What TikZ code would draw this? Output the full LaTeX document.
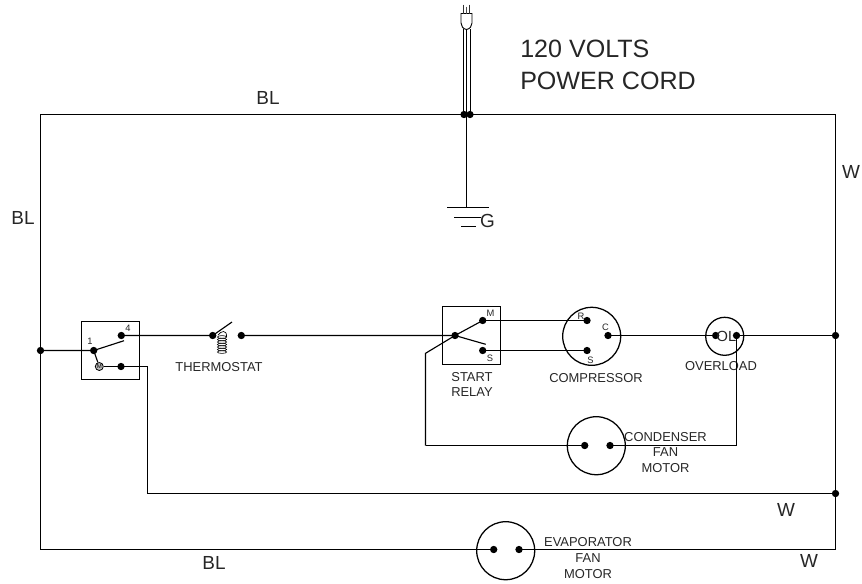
\documentclass[tikz,border=0pt]{standalone}
\usepackage{fontspec}
\setmainfont{Liberation Sans}
\newcommand{\fsA}{\fontsize{18.8pt}{24pt}\selectfont}
\newcommand{\fsB}{\fontsize{14.2pt}{18pt}\selectfont}
\newcommand{\fsC}{\fontsize{9.7pt}{11.7pt}\selectfont}
\newcommand{\fsD}{\fontsize{7pt}{9pt}\selectfont}
\tikzset{
  wire/.style={draw=black,line width=0.85pt},
  thin wire/.style={draw=black,line width=0.7pt},
  dot/.style={circle,fill=black,draw=none,minimum size=5.5pt,inner sep=0pt},
  disc/.style={circle,draw=black,line width=0.95pt,inner sep=0pt},
  relaybox/.style={draw=black,line width=0.85pt,inner sep=0pt,minimum width=43.5pt,minimum height=43.5pt},
  big/.style={inner sep=0pt,font=\fsA,align=left,anchor=west,text=black!85},
  wirelabel/.style={inner sep=0pt,font=\fsB,text=black!85},
  part/.style={inner sep=0pt,font=\fsC,align=center,text=black!85},
  pin/.style={inner sep=0pt,font=\fsD,text=black!85},
}
\begin{document}
\begin{tikzpicture}[x=0.75pt,y=-0.75pt]
\useasboundingbox (0,0) rectangle (862,583);
% frame corners
\coordinate (tl) at (40.5,114.5);
\coordinate (tr) at (835.5,114.5);
\coordinate (bl) at (40.5,549.5);
\coordinate (br) at (835.5,549.5);
% junction dots
\node[dot] (pL) at (464,114.5) {};
\node[dot] (pR) at (470,114.5) {};
\node[dot] (jL) at (40.5,350.5) {};
\node[dot] (jR1) at (835.5,335.5) {};
\node[dot] (jR2) at (835.5,493.5) {};
% frame
\draw[wire] (pL.center) -- (tl) -- (bl);
\draw[wire] (pR.center) -- (tr) -- (br);
% plug
\coordinate (plugL) at (463,29);
\coordinate (plugM) at (466.5,29);
\coordinate (plugR) at (470.5,29);
\coordinate (gndTop) at (466.5,114.5);
\coordinate (gndBot) at (466.5,207.5);
\draw[thin wire] (plugL) -- (463,114.5);
\draw[thin wire] (plugM) -- (gndTop) -- (gndBot);
\draw[thin wire] (plugR) -- (470.5,114.5);
\draw[thin wire,fill=white] (461,13.5) -- (472,13.5) -- (472,23) .. controls (472,26) and (470,29) .. (466.5,29.5) .. controls (463,29) and (461,26) .. (461,23) -- cycle;
\draw[line width=1.3pt,black!80] (463.5,4.5) -- (463.5,13.5);
\draw[line width=0.7pt,black!70] (466,6.5) -- (466,13.5);
\draw[line width=1.3pt,black!80] (469.5,4.5) -- (469.5,13.5);
% ground
\coordinate (g1a) at (447,207.5); \coordinate (g1b) at (489,207.5);
\coordinate (g2a) at (454,217.5); \coordinate (g2b) at (481,217.5);
\coordinate (g3a) at (461,226.5); \coordinate (g3b) at (476,226.5);
\draw[thin wire] (g1a) -- (g1b);
\draw[thin wire] (g2a) -- (g2b);
\draw[thin wire] (g3a) -- (g3b);
\node[inner sep=0pt,font=\fsB,text=black!85] (gtext) at (487.5,221) {G};
% power cord text
\node[big] (volts) at (520,49) {120 VOLTS};
\node[big] (cord) at (520,81) {POWER CORD};
% wire colour labels
\node[wirelabel] (lb1) at (268,98) {BL};
\node[wirelabel] (lb2) at (23,218) {BL};
\node[wirelabel] (lb3) at (214,563) {BL};
\node[wirelabel] (lw1) at (851,172) {W};
\node[wirelabel] (lw2) at (786,510) {W};
\node[wirelabel] (lw3) at (809,561) {W};
% switch
\node[relaybox] (sw) at (110.5,350.5) {};
\node[dot] (s1) at (93.7,350.5) {};
\node[dot] (s4) at (121.3,335.5) {};
\node[dot] (sM2) at (121,366.5) {};
\node[circle,draw=black,line width=0.6pt,minimum size=6pt,inner sep=0pt,fill=black!25] (sM) at (99.3,366.5) {};
\node[inner sep=0pt,font=\fontsize{4.5pt}{5pt}\selectfont] (sMt) at (99.3,366.7) {M};
\node[pin] (s1t) at (90,341) {1};
\node[pin] (s4t) at (128,328) {4};
\coordinate (armEnd) at (124,340.7);
\draw[wire] (jL.center) -- (s1.center) -- (armEnd);
\draw[wire] (s1.center) -- (sM);
\coordinate (wCorner) at (147.5,366.5);
\coordinate (wCorner2) at (147.5,493.5);
\draw[wire] (sM) -- (sM2.center) -- (wCorner) -- (wCorner2) -- (jR2.center);
% thermostat
\node[dot] (t1) at (212.7,335.5) {};
\node[dot] (t2) at (241.3,335.5) {};
\coordinate (tArm) at (232,322);
\draw[wire] (s4.center) -- (t1.center) -- (tArm);
\foreach \yy in {337,339.5,342,344.5,347,349.5,352}
  \draw[line width=0.45pt] (222,\yy) ellipse [x radius=4.6, y radius=1.4];
\draw[line width=0.5pt] (218,335) .. controls (221,331) and (227,329) .. (226.5,337);
\node[part] (tlabel) at (219,367) {THERMOSTAT};
% relay
\node[relaybox] (rel) at (471.5,335.5) {};
\node[dot] (rc) at (455,335.5) {};
\node[dot] (rM) at (482.7,320.5) {};
\node[dot] (rS) at (482.7,350.5) {};
\coordinate (rArm) at (485.7,344.3);
\coordinate (rTail) at (425.5,353.3);
\coordinate (rDown) at (425.5,445.5);
\node[pin] (rMt) at (490.5,313) {M};
\node[pin] (rSt) at (490,358) {S};
\node[part] (rlabel) at (472,384.5) {START\\RELAY};
\draw[wire] (t2.center) -- (rc.center) -- (rArm);
% compressor
\node[disc,minimum size=43.5pt] (comp) at (591.7,336.3) {};
\node[dot] (cR) at (587,320.5) {};
\node[dot] (cS) at (587,350.5) {};
\node[dot] (cC) at (608,335.5) {};
\node[pin] (cRt) at (581,316) {R};
\node[pin] (cSt) at (590.5,360) {S};
\node[pin] (cCt) at (605.5,327) {C};
\node[part] (clabel) at (596,378) {COMPRESSOR};
\draw[wire] (rM.center) -- (rc.center) -- (rTail) -- (rDown);
\draw[wire] (rM.center) -- (cR.center);
\draw[wire] (rS.center) -- (cS.center);
% overload
\node[disc,minimum size=28.5pt] (ol) at (724.7,336.3) {};
\node[dot] (oL) at (715.7,335.5) {};
\node[dot] (oR) at (736.5,335.5) {};
\node[inner sep=0pt,font=\fontsize{11pt}{12pt}\selectfont,text=black!85] (oltext) at (726.5,336) {OL};
\node[part] (olabel) at (721,366) {OVERLOAD};
\draw[wire] (cC.center) -- (oL.center);
\draw[wire] (oR.center) -- (jR1.center);
% condenser fan motor
\node[disc,minimum size=43.5pt] (cf) at (596.3,445.7) {};
\node[dot] (f1) at (584.7,445.5) {};
\node[dot] (f2) at (610,445.5) {};
\coordinate (fCorner) at (736.5,445.5);
\draw[wire] (rDown) -- (f1.center);
\draw[wire] (f2.center) -- (fCorner) -- (oR.center);
\node[part] (flabel) at (665.5,452.5) {CONDENSER\\FAN\\MOTOR};
% evaporator fan motor
\node[disc,minimum size=43.5pt] (ef) at (505.7,550.7) {};
\node[dot] (e1) at (493.7,549.5) {};
\node[dot] (e2) at (519,549.5) {};
\draw[wire] (bl) -- (e1.center);
\draw[wire] (e2.center) -- (br);
\node[part] (elabel) at (588,558) {EVAPORATOR\\FAN\\MOTOR};
\end{tikzpicture}
\end{document}
